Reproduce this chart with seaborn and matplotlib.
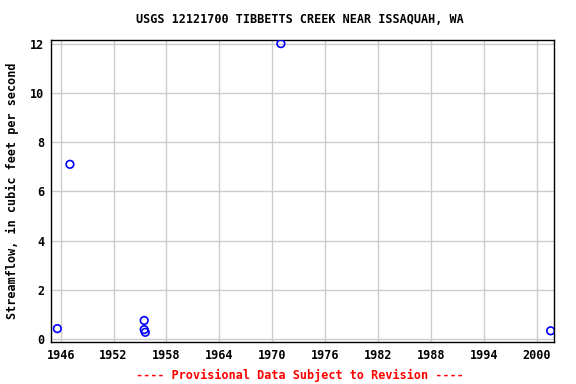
import matplotlib
matplotlib.use("Agg")
import matplotlib.pyplot as plt
import seaborn as sns
import pandas as pd

# measurement dates as decimal years, streamflow in cfs
years = [1945.62, 1947.05, 1955.48, 1955.48, 1955.6, 1970.99, 2001.6]
flow = [0.43, 7.1, 0.76, 0.39, 0.28, 12.0, 0.34]
xticks = [1946, 1952, 1958, 1964, 1970, 1976, 1982, 1988, 1994, 2000]
yticks = [0, 2, 4, 6, 8, 10, 12]

df = pd.DataFrame({"year": years, "flow": flow})

sns.set_style("white")
plt.rcParams["font.family"] = ["DejaVu Sans Mono"]
plt.rcParams["font.weight"] = "bold"
plt.rcParams["text.color"] = "black"
plt.rcParams["axes.labelcolor"] = "black"
plt.rcParams["xtick.color"] = "black"
plt.rcParams["ytick.color"] = "black"

fig = plt.figure(figsize=(5.76, 3.84), dpi=100)
ax = fig.add_axes([0.0885, 0.109, 0.873, 0.787])

sns.scatterplot(data=df, x="year", y="flow", ax=ax, marker="o", s=30,
                facecolors="none", edgecolor="#0000ff", linewidth=1.2, zorder=3)

ax.set_xlim(1944.9, 2001.96)
ax.set_ylim(-0.12, 12.15)
ax.set_xticks(xticks)
ax.set_yticks(yticks)
ax.grid(True, color="#cccccc", linewidth=1)
ax.set_axisbelow(True)
for s in ax.spines.values():
    s.set_color("black")
    s.set_linewidth(1)
ax.tick_params(axis="both", length=3, color="black", labelcolor="black", labelsize=8.5, pad=2)
for lab in ax.get_xticklabels() + ax.get_yticklabels():
    lab.set_fontweight("bold")

ax.set_xlabel("")
ax.set_ylabel("Streamflow, in cubic feet per second", fontsize=8.5, fontweight="bold", labelpad=8)
fig.text(0.52, 0.948, "USGS 12121700 TIBBETTS CREEK NEAR ISSAQUAH, WA",
         ha="center", va="center", fontsize=8.5, fontweight="bold", color="black")
fig.text(0.52, 0.022, "---- Provisional Data Subject to Revision ----",
         ha="center", va="center", fontsize=8.5, fontweight="bold", color="red")

fig.savefig("out.png", dpi=100)
